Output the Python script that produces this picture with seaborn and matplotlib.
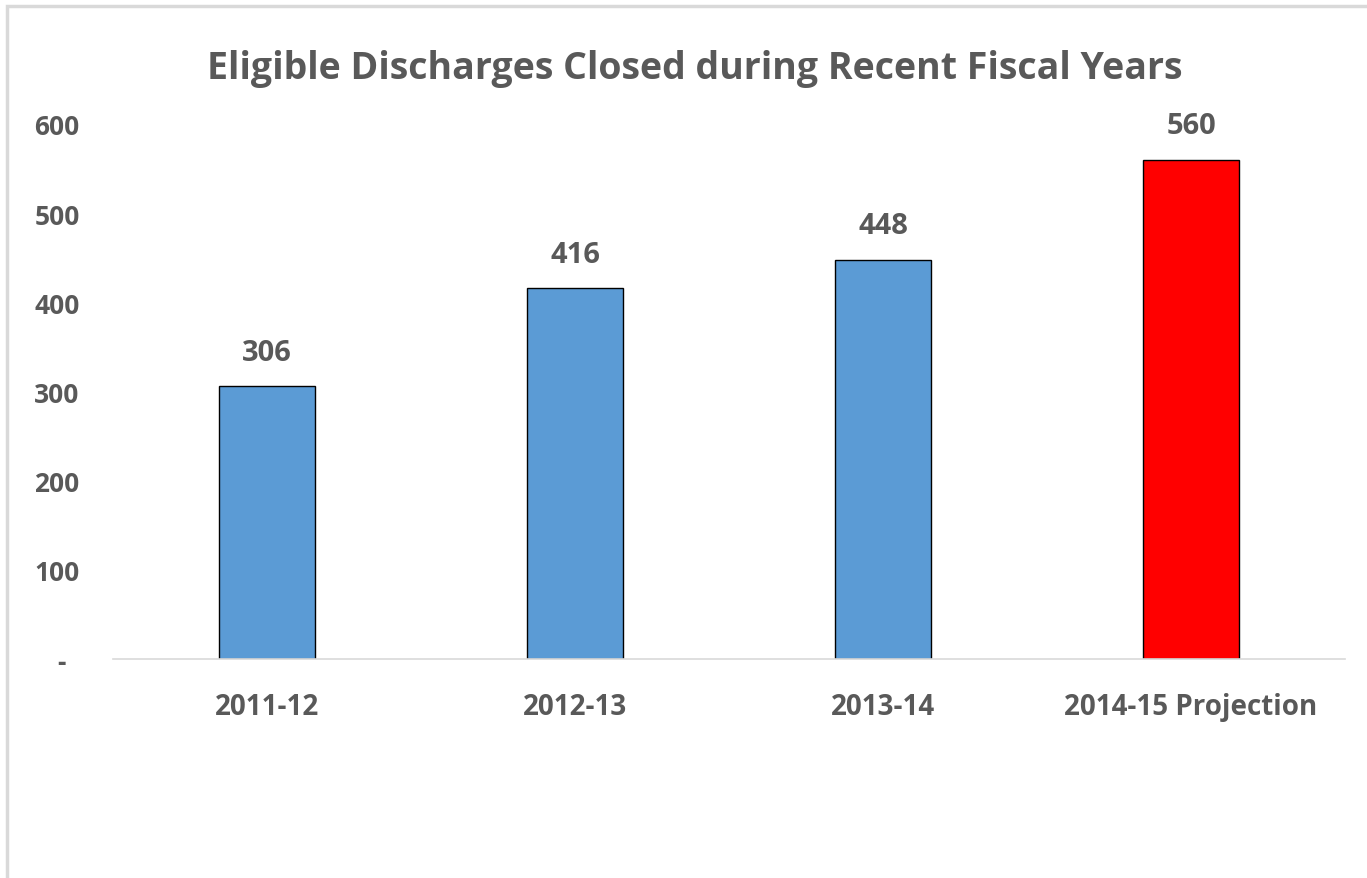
import pandas as pd
import seaborn as sns
import matplotlib.pyplot as plt
from matplotlib.patches import Rectangle

# chart values
years = ["2011-12", "2012-13", "2013-14", "2014-15 Projection"]
closed = [306, 416, 448, 560]
bar_colors = ["#5b9bd5", "#5b9bd5", "#5b9bd5", "#ff0000"]
y_ticks = [0, 100, 200, 300, 400, 500, 600]
y_tick_labels = ["-  ", "100", "200", "300", "400", "500", "600"]

sns.set_style("white")
plt.rcParams['font.family'] = ['Open Sans', 'DejaVu Sans']
text_col = "#595959"

df = pd.DataFrame({"Year": years, "Closed": closed})

fig = plt.figure(figsize=(13.67, 8.79), dpi=100)
ax = fig.add_axes([0.0827, 0.2491, 0.9013, 0.6087])

sns.barplot(data=df, x="Year", y="Closed", hue="Year",
            palette=dict(zip(years, bar_colors)), legend=False,
            width=0.31, edgecolor="black", linewidth=1, saturation=1, ax=ax)

for c in ax.containers:
    ax.bar_label(c, fmt="%d", padding=14, fontsize=21, fontweight="bold", color=text_col)

ax.set_ylim(0, 600)
ax.set_xlim(-0.5, 3.5)
ax.set_yticks(y_ticks)
ax.set_yticklabels(y_tick_labels)
ax.tick_params(axis="y", length=0, pad=24, labelsize=19, labelcolor=text_col)
ax.tick_params(axis="x", length=0, pad=24, labelsize=20, labelcolor=text_col)
for lab in ax.get_xticklabels() + ax.get_yticklabels():
    lab.set_fontweight("bold")
ax.set_xlabel("")
ax.set_ylabel("")
for s in ["top", "right", "left"]:
    ax.spines[s].set_visible(False)
ax.spines["bottom"].set_color("#d9d9d9")
ax.spines["bottom"].set_linewidth(1.2)

fig.text(0.508, 0.922, "Eligible Discharges Closed during Recent Fiscal Years",
         ha="center", va="center", fontsize=27, fontweight="bold", color=text_col)

# chart frame (left and top edges show)
fig.patches.append(Rectangle((7 / 1367, -0.1), 1.2, 1.1 - 7 / 879,
                             transform=fig.transFigure, fill=False,
                             edgecolor="#d9d9d9", linewidth=2.5))

fig.savefig("out.png", dpi=100)
